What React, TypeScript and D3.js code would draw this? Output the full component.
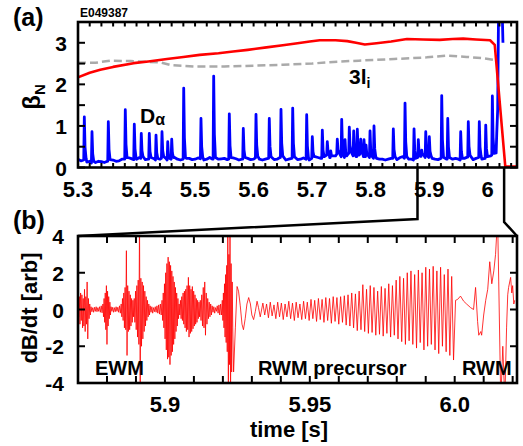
import React from "react";
import * as d3 from "d3";

const W = 523, H = 446;
const FONT = "'Liberation Sans', Arial, Helvetica, sans-serif";

// ---------- Panel (a) data ----------
const betaT = [5.3, 5.32, 5.338, 5.36, 5.395, 5.42, 5.452, 5.48, 5.508, 5.54, 5.565, 5.59, 5.622, 5.65, 5.675, 5.696, 5.713, 5.74, 5.76, 5.775, 5.79, 5.81, 5.835, 5.862, 5.89, 5.918, 5.94, 5.958, 5.98, 6.004, 6.012, 6.03, 6.053];
const betaV = [2.17, 2.28, 2.35, 2.42, 2.51, 2.55, 2.61, 2.66, 2.71, 2.75, 2.79, 2.83, 2.89, 2.94, 2.99, 3.03, 3.06, 3.06, 3.04, 3.0, 2.96, 2.99, 3.03, 3.09, 3.08, 3.07, 3.09, 3.1, 3.08, 3.06, 2.95, 0.02, 0.02];

const liT = [5.3, 5.33, 5.355, 5.39, 5.42, 5.44, 5.46, 5.5, 5.55, 5.6, 5.65, 5.7, 5.725, 5.75, 5.78, 5.81, 5.84, 5.87, 5.896, 5.93, 5.964, 5.99, 6.01];
const liV = [2.52, 2.52, 2.57, 2.56, 2.54, 2.53, 2.46, 2.43, 2.43, 2.45, 2.47, 2.5, 2.53, 2.55, 2.57, 2.59, 2.61, 2.63, 2.65, 2.69, 2.66, 2.63, 2.59];

// D-alpha baseline, sampled every 0.005 s from 5.30
const daBaseStart = 5.3;
const daBaseStep = 0.005;
const daBaseV = [
  0.2, 0.16, 0.18, 0.13, 0.15, 0.11, 0.12, 0.15, 0.14, 0.12, 0.15, 0.18, 0.18, 0.15, 0.16, 0.2, 0.2, 0.24, 0.22, 0.19,
  0.2, 0.24, 0.22, 0.19, 0.2, 0.23, 0.21, 0.18, 0.2, 0.22, 0.22, 0.18, 0.2, 0.24, 0.2, 0.18, 0.2, 0.22, 0.22, 0.19,
  0.2, 0.23, 0.21, 0.18, 0.2, 0.24, 0.2, 0.18, 0.2, 0.21, 0.22, 0.19, 0.2, 0.23, 0.21, 0.18, 0.2, 0.22, 0.22, 0.19,
  0.2, 0.23, 0.2, 0.18, 0.2, 0.22, 0.22, 0.19, 0.2, 0.24, 0.2, 0.18, 0.2, 0.22, 0.22, 0.19, 0.2, 0.23, 0.2, 0.18,
  0.22, 0.26, 0.24, 0.22, 0.26, 0.3, 0.24, 0.22, 0.28, 0.32, 0.26, 0.24, 0.3, 0.34, 0.28, 0.26, 0.3, 0.33, 0.26, 0.24,
  0.24, 0.22, 0.22, 0.2, 0.2, 0.18, 0.2, 0.22, 0.22, 0.19, 0.24, 0.26, 0.22, 0.2, 0.2, 0.18, 0.24, 0.27, 0.26, 0.24,
  0.24, 0.22, 0.2, 0.19, 0.22, 0.24, 0.2, 0.18, 0.2, 0.22, 0.2, 0.18, 0.22, 0.25, 0.2, 0.19, 0.22, 0.24, 0.2, 0.22,
  0.24, 0.28, 0.3, 0.35,
];
// ELM spikes
const daSpikeT = [5.3108, 5.3239, 5.3518, 5.3808, 5.3962, 5.4081, 5.4218, 5.4333, 5.4435, 5.4533, 5.4601, 5.4806, 5.5101, 5.5318, 5.5585, 5.5824, 5.6041, 5.6268, 5.6468, 5.6668, 5.6907, 5.7003, 5.7174, 5.7259, 5.7318, 5.743, 5.7505, 5.7562, 5.7635, 5.771, 5.7772, 5.783, 5.7886, 5.7921, 5.7989, 5.8057, 5.8387, 5.8587, 5.8741, 5.8814, 5.8872, 5.8941, 5.9002, 5.9214, 5.9317, 5.9538, 5.9668, 5.9856, 5.9966, 6.0079, 6.0154];
const daSpikeV = [1.22, 0.86, 1.1, 1.39, 1.04, 0.82, 0.82, 0.78, 0.86, 0.62, 0.68, 1.91, 1.18, 2.2, 1.29, 0.94, 1.28, 1.18, 1.4, 1.43, 1.27, 0.74, 0.9, 0.62, 0.4, 0.68, 1.16, 0.67, 0.97, 0.88, 0.92, 0.68, 0.67, 0.54, 0.88, 1.0, 0.93, 1.55, 0.93, 0.67, 0.42, 0.86, 0.74, 1.73, 1.18, 0.86, 1.1, 1.1, 1.02, 1.72, 0.82];
// final disruption rise
const daTailT = [6.017, 6.0185, 6.02, 6.0225, 6.0245, 6.026];
const daTailV = [1.4, 3.8, 4.0, 3.6, 3.9, 3.0];

const topXTicks = [5.3, 5.32, 5.34, 5.36, 5.38, 5.4, 5.42, 5.44, 5.46, 5.48, 5.5, 5.52, 5.54, 5.56, 5.58, 5.6, 5.62, 5.64, 5.66, 5.68, 5.7, 5.72, 5.74, 5.76, 5.78, 5.8, 5.82, 5.84, 5.86, 5.88, 5.9, 5.92, 5.94, 5.96, 5.98, 6.0, 6.02, 6.04];
const topXLabelV = [5.3, 5.4, 5.5, 5.6, 5.7, 5.8, 5.9, 6.0];
const topXLabels = ["5.3", "5.4", "5.5", "5.6", "5.7", "5.8", "5.9", "6"];
const topYTicks = [0, 0.5, 1, 1.5, 2, 2.5, 3, 3.5];
const topYLabelV = [0, 1, 2, 3];
const topYLabels = ["0", "1", "2", "3"];

// zoom window shown in panel (b)
const zoomT0 = 5.88;
const zoomT1 = 6.028;

// ---------- Panel (b) data ----------
// EWM bursts: [tStart, tEnd, samples evenly spaced]
const ewmSegments: [number, number, number[]][] = [
  [5.87, 5.8745, [0.2, -0.4, 0.7, -0.8, 0.9, -0.6, 0.8, -1.0, 0.6, -0.9, 1.1, -1.2, 0.7, -0.8, 1.5, -1.6, 0.6, -0.5, 0.3, -0.3]],
  [5.8745, 5.8786, [0.15, -0.12, 0.1, -0.15, 0.12, -0.1, 0.15, -0.12, 0.1, -0.1, 0.15, -0.15, 0.2, -0.18]],
  [5.8786, 5.8814, [0.3, -0.4, 0.6, -0.7, 0.9, -1.1, 1.3, -1.9, 1.0, -0.9, 0.7, -0.5, 0.4, -0.3]],
  [5.8814, 5.8849, [0.15, -0.1, 0.12, -0.15, 0.1, -0.12, 0.15, -0.1, 0.12, -0.15, 0.2, -0.2]],
  [5.8849, 5.8894, [0.3, -0.4, 0.6, -0.6, 0.9, -1.0, 1.2, -1.1, 3.2, -2.5, 1.3, -1.2, 1.0, -1.1, 0.8, -0.9, 0.6, -0.7, 0.5, -0.4]],
  [5.8894, 5.8949, [0.6, -0.7, 1.0, -1.1, 1.3, -1.5, 1.6, -1.9, 5, -5, 1.7, -2.0, 1.5, -1.6, 1.3, -1.2, 1.0, -0.9, 0.7, -0.6, 0.5, -0.4, 0.3, -0.3]],
  [5.8949, 5.899, [0.2, -0.15, 0.15, -0.2, 0.1, -0.12, 0.15, -0.15, 0.2, -0.2, 0.25, -0.25, 0.3, -0.3]],
  [5.899, 5.9049, [0.5, -0.6, 0.9, -1.0, 1.4, -1.6, 2.0, -2.2, 2.5, -2.7, 2.85, -2.6, 2.6, -3.0, 2.4, -2.5, 2.1, -2.3, 1.8, -1.9, 1.5, -1.6, 1.2, -1.2, 0.9, -0.9, 0.6, -0.5]],
  [5.9049, 5.9122, [0.3, -0.3, 0.5, -0.5, 0.7, -0.6, 0.9, -0.8, 1.0, -1.0, 1.1, -1.2, 1.3, -1.1, 1.75, -1.5, 1.3, -1.3, 1.1, -1.2, 1.25, -1.05, 1.0, -0.9, 0.8, -0.8, 0.6, -0.7, 0.5, -0.5, 0.4, -0.4]],
  [5.9122, 5.9163, [0.5, -0.6, 0.8, -0.9, 1.2, -1.0, 1.5, -1.4, 0.9, -0.8, 0.6, -0.5, 0.4, -0.4, 0.3, -0.3]],
  [5.9163, 5.9198, [0.2, -0.15, 0.15, -0.2, 0.1, -0.1, 0.2, -0.2, 0.25, -0.3, 0.3, -0.3]],
  [5.9198, 5.9236, [0.5, -0.6, 0.9, -1.0, 1.4, -1.5, 1.9, -1.8, 2.4, -2.3, 5, -5, 3.0, -3.0, 5, -5, 2.5, -3.4, 1.5, -1.0]],
];
// slow ringing after last EWM
const ringT = [5.9237, 5.9243, 5.9249, 5.9254, 5.926, 5.9266, 5.9271, 5.9277, 5.9283, 5.9289, 5.9295, 5.93, 5.9306, 5.9312, 5.9318, 5.9323, 5.9329];
const ringV = [-3.4, -1.0, 1.25, 1.0, 0.2, -0.8, -1.1, -0.5, 0.3, 0.65, 0.3, -0.3, -0.55, -0.1, 0.45, 0.1, -0.4];
// RWM precursor oscillation extremes (peak, trough pairs)
const precT0 = 5.9338, precT1 = 5.9996;
const precV = [
  0.35, -0.3, 0.3, -0.45, 0.4, -0.35, 0.25, -0.5, 0.4, -0.4, 0.35, -0.55, 0.3, -0.4, 0.45, -0.5, 0.35, -0.6, 0.4, -0.45, 0.3, -0.55, 0.45, -0.5, 0.4, -0.6,
  0.55, -0.5, 0.5, -0.65, 0.6, -0.55, 0.55, -0.7, 0.65, -0.6, 0.6, -0.75, 0.7, -0.65, 0.65, -0.8, 0.7, -0.7, 0.75, -0.85,
  0.8, -0.9, 0.9, -1.0, 0.85, -1.15, 1.0, -1.1,
  1.35, -1.2, 1.1, -1.3, 1.3, -1.25, 1.2, -1.4, 1.0, -1.35, 1.25, -1.45, 1.15, -1.3, 1.4, -1.5, 1.3, -1.4,
  1.6, -1.6, 1.8, -1.75, 1.7, -1.9, 2.0, -1.7,
  2.1, -1.9, 1.9, -2.1, 2.15, -1.8, 2.0, -2.2, 2.3, -2.0, 2.2, -1.9,
  2.35, -2.2, 2.1, -2.4, 2.3, -2.0, 1.9, -2.3, 2.2, -2.5, 1.8, -2.75,
];
// RWM
const rwmT = [6.0003, 6.001, 6.002, 6.0031, 6.0041, 6.0055, 6.0065, 6.0072, 6.0079, 6.0083, 6.009, 6.0093, 6.01, 6.0107, 6.0114, 6.0121, 6.0128, 6.0135, 6.0141, 6.0148, 6.0152, 6.0159, 6.0166, 6.0173, 6.0179, 6.0183, 6.0186, 6.0193, 6.0197, 6.02, 6.0204, 6.0207];
const rwmV = [0.5, 0.55, 0.73, 0.45, 0.3, 0.1, 0.0, 1.2, -0.65, -1.4, -1.2, -1.4, -0.3, 0.5, 1.1, 2.6, 1.4, 2.1, 3.0, 5, 1.5, -5, -2.0, -5, -1.0, 0.8, 1.2, 1.75, 0.9, 1.3, 0.3, 0.5];

const botXTicks = [5.87, 5.88, 5.89, 5.9, 5.91, 5.92, 5.93, 5.94, 5.95, 5.96, 5.97, 5.98, 5.99, 6.0, 6.01, 6.02];
const botXLabelV = [5.9, 5.95, 6.0];
const botXLabels = ["5.9", "5.95", "6.0"];
const botYTicks = [-4, -2, 0, 2, 4];
const botYLabels = ["-4", "-2", "0", "2", "4"];

export default function App() {
  const L = 78, R = 517;
  const aTop = 22, aBot = 167.5;
  const bTop = 236, bBot = 383;
  const xTop = d3.scaleLinear().domain([5.3, 6.05]).range([L, R]);
  const yTop = d3.scaleLinear().domain([0, 3.5]).range([aBot, aTop]);
  const xBot = d3.scaleLinear().domain([5.87, 6.0215]).range([L, R]);
  const yBot = d3.scaleLinear().domain([-4, 4]).range([bBot, bTop]);

  const lineTop = d3.line<[number, number]>().x((d) => xTop(d[0])).y((d) => yTop(d[1]));
  const lineBot = d3.line<[number, number]>().x((d) => xBot(d[0])).y((d) => yBot(d[1]));

  const betaPts = betaT.map((t, i) => [t, betaV[i]] as [number, number]);
  const liPts = liT.map((t, i) => [t, liV[i]] as [number, number]);

  // D-alpha assembly: baseline + spikes + final rise
  const basePts = daBaseV.map((v, i) => [daBaseStart + i * daBaseStep, v] as [number, number]);
  const baseAt = (t: number) => {
    const i = Math.max(0, Math.min(daBaseV.length - 1, Math.round((t - daBaseStart) / daBaseStep)));
    return daBaseV[i];
  };
  let daPts: [number, number][] = basePts.filter(
    ([t]) => !daSpikeT.some((s) => t > s - 0.0014 && t < s + 0.0035) && t < 6.015
  );
  daSpikeT.forEach((t, i) => {
    const h = daSpikeV[i];
    const b = baseAt(t);
    daPts.push([t - 0.001, b], [t, h], [t + 0.0012, b + 0.3 * (h - b)], [t + 0.003, b + 0.04]);
  });
  daPts = daPts.filter(([t]) => t <= 6.0165);
  daTailT.forEach((t, i) => daPts.push([t, daTailV[i]]));
  daPts.sort((a, b) => a[0] - b[0]);

  // dB/dt assembly
  const sig: [number, number][] = [];
  ewmSegments.forEach(([t0, t1, vals]) => {
    const n = vals.length;
    vals.forEach((v, i) => sig.push([t0 + ((t1 - t0) * i) / n, v]));
  });
  ringT.forEach((t, i) => sig.push([t, ringV[i]]));
  precV.forEach((v, i) => sig.push([precT0 + ((precT1 - precT0) * i) / (precV.length - 1), v]));
  rwmT.forEach((t, i) => sig.push([t, rwmV[i]]));

  const tickW = 2;
  const bold = { fontFamily: FONT, fontWeight: 700 as const };

  return (
    <svg width={W} height={H} style={{ position: "absolute", left: 0, top: 0, background: "#fff" }}>
      <defs>
        <clipPath id="clipA">
          <rect x={L} y={aTop} width={R - L} height={aBot - aTop} />
        </clipPath>
        <clipPath id="clipB">
          <rect x={L} y={bTop} width={R - L} height={bBot - bTop} />
        </clipPath>
      </defs>
      <rect x={0} y={0} width={W} height={H} fill="#fff" />

      {/* ---------- panel (a) ---------- */}
      <g clipPath="url(#clipA)">
        <path d={lineTop(liPts) || ""} fill="none" stroke="#aaaaaa" strokeWidth={2.5} strokeDasharray="8,4" />
        <path d={lineTop(daPts) || ""} fill="none" stroke="#0000ff" strokeWidth={2.8} strokeLinejoin="round" />
        <path d={lineTop(betaPts) || ""} fill="none" stroke="#ff0000" strokeWidth={2.6} strokeLinejoin="round" />
      </g>
      {topXTicks.map((t) => (
        <g key={"ta" + t}>
          <line x1={xTop(t)} x2={xTop(t)} y1={aBot} y2={aBot - 4.5} stroke="#000" strokeWidth={tickW} />
          <line x1={xTop(t)} x2={xTop(t)} y1={aTop} y2={aTop + 4.5} stroke="#000" strokeWidth={tickW} />
        </g>
      ))}
      {topYTicks.map((v) => (
        <g key={"tya" + v}>
          <line x1={L} x2={L + 7} y1={yTop(v)} y2={yTop(v)} stroke="#000" strokeWidth={tickW} />
          <line x1={R} x2={R - 7} y1={yTop(v)} y2={yTop(v)} stroke="#000" strokeWidth={tickW} />
        </g>
      ))}
      <rect x={L} y={aTop} width={R - L} height={aBot - aTop} fill="none" stroke="#000" strokeWidth={2.6} />
      {topXLabelV.map((v, i) => (
        <text key={"xla" + i} x={xTop(v)} y={197} textAnchor="middle" fontSize={22} {...bold}>
          {topXLabels[i]}
        </text>
      ))}
      {topYLabelV.map((v, i) => (
        <text key={"yla" + i} x={67} y={yTop(v) + 8} textAnchor="end" fontSize={21} {...bold}>
          {topYLabels[i]}
        </text>
      ))}
      <text x={13} y={26} fontSize={25} {...bold}>(a)</text>
      <text x={80} y={17} fontSize={12} {...bold}>E049387</text>
      <text transform="translate(40,97) rotate(-90)" textAnchor="middle" fontSize={24} {...bold}>
        β<tspan fontSize={15} dy={5}>N</tspan>
      </text>
      <text x={140} y={123} fontSize={21} {...bold}>
        D<tspan fontSize={16} dy={2}>α</tspan>
      </text>
      <text x={349} y={84} fontSize={21} {...bold}>
        3l<tspan fontSize={14} dy={4}>i</tspan>
      </text>

      {/* zoom connector lines */}
      <polyline
        points={`${xTop(zoomT0)},${aBot} ${xTop(zoomT0)},219 ${L},${bTop}`}
        fill="none" stroke="#000" strokeWidth={2.5}
      />
      <polyline
        points={`${xTop(zoomT1)},${aBot} ${xTop(zoomT1)},222 ${R},${bTop}`}
        fill="none" stroke="#000" strokeWidth={2.5}
      />

      {/* ---------- panel (b) ---------- */}
      <g clipPath="url(#clipB)">
        <path d={lineBot(sig) || ""} fill="none" stroke="#ff0000" strokeWidth={0.8} strokeLinejoin="round" />
      </g>
      {botXTicks.map((t) => (
        <g key={"tb" + t}>
          <line x1={xBot(t)} x2={xBot(t)} y1={bBot} y2={bBot - 7} stroke="#000" strokeWidth={tickW} />
          <line x1={xBot(t)} x2={xBot(t)} y1={bTop} y2={bTop + 7} stroke="#000" strokeWidth={tickW} />
        </g>
      ))}
      {botYTicks.map((v) => (
        <g key={"tyb" + v}>
          <line x1={L} x2={L + 7} y1={yBot(v)} y2={yBot(v)} stroke="#000" strokeWidth={tickW} />
          <line x1={R} x2={R - 7} y1={yBot(v)} y2={yBot(v)} stroke="#000" strokeWidth={tickW} />
        </g>
      ))}
      <rect x={L} y={bTop} width={R - L} height={bBot - bTop} fill="none" stroke="#000" strokeWidth={2.6} />
      {botXLabelV.map((v, i) => (
        <text key={"xlb" + i} x={xBot(v)} y={412} textAnchor="middle" fontSize={22} {...bold}>
          {botXLabels[i]}
        </text>
      ))}
      {botYTicks.map((v, i) => (
        <text key={"ylb" + i} x={64} y={yBot(v) + 8} textAnchor="end" fontSize={21} {...bold}>
          {botYLabels[i]}
        </text>
      ))}
      <text x={13} y={229} fontSize={25} {...bold}>(b)</text>
      <text transform="translate(37,308) rotate(-90)" textAnchor="middle" fontSize={22} {...bold}>
        dB/dt [arb]
      </text>
      <text x={289} y={437} textAnchor="middle" fontSize={22} {...bold}>time [s]</text>
      <text x={95} y={375} fontSize={20} {...bold}>EWM</text>
      <text x={258} y={375} fontSize={20} {...bold}>RWM precursor</text>
      <text x={462} y={375} fontSize={20} {...bold}>RWM</text>
    </svg>
  );
}
